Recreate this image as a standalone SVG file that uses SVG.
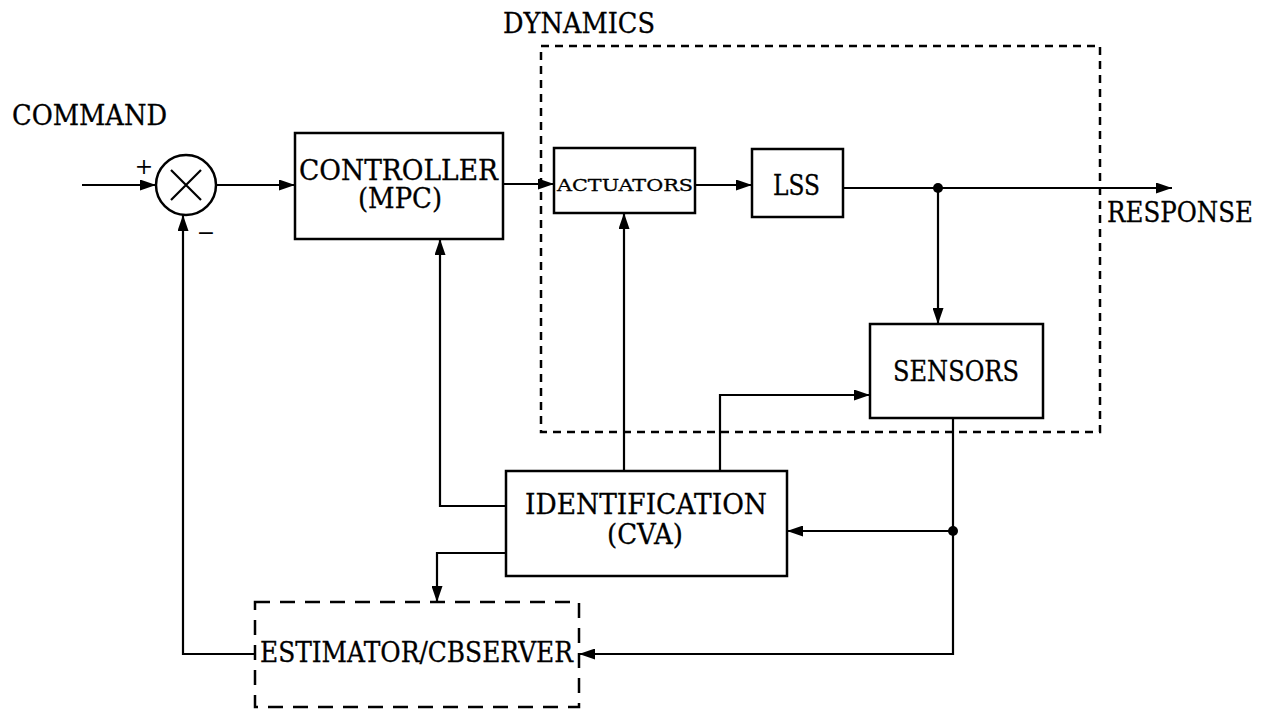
<svg xmlns="http://www.w3.org/2000/svg" width="1272" height="711" viewBox="0 0 1272 711">
  <style>
    .box { fill: none; stroke: #000; stroke-width: 2.5; }
    .dyn { fill: none; stroke: #000; stroke-width: 2.5; stroke-dasharray: 8 6; }
    .est { fill: none; stroke: #000; stroke-width: 2.5; stroke-dasharray: 15 10; }
    .wire { fill: none; stroke: #000; stroke-width: 2.2; }
    .lbl { font-family: "DejaVu Serif", "Liberation Serif", serif; font-size: 27px; fill: #000; stroke: #000; stroke-width: 0.3; }
    .sm { font-family: "DejaVu Serif", "Liberation Serif", serif; font-size: 17px; fill: #000; stroke: #000; stroke-width: 0.3; }
    .sign { font-family: "DejaVu Serif", "Liberation Serif", serif; font-size: 22px; fill: #000; }
  </style>
  <defs>
    <marker id="arr" viewBox="0 0 16 11" refX="16" refY="5.5" markerWidth="16" markerHeight="11" markerUnits="userSpaceOnUse" orient="auto">
      <path d="M0,0 L16,5.5 L0,11 Z" fill="#000"/>
    </marker>
  </defs>
  <rect width="1272" height="711" fill="#fff"/>

  <!-- outer labels -->
  <text class="lbl" x="12" y="125" textLength="155" lengthAdjust="spacingAndGlyphs">COMMAND</text>
  <text class="lbl" x="503" y="33" textLength="152" lengthAdjust="spacingAndGlyphs">DYNAMICS</text>
  <text class="lbl" x="1107" y="222" textLength="146" lengthAdjust="spacingAndGlyphs">RESPONSE</text>

  <!-- plant boundary -->
  <g id="dynamics">
    <rect class="dyn" x="541" y="46" width="559" height="386"/>
  </g>

  <!-- summing junction -->
  <g id="sum">
    <circle class="box" cx="186" cy="185" r="30"/>
    <path class="wire" d="M171,170 L201,200 M201,170 L171,200"/>
    <text class="sign" x="144" y="174" text-anchor="middle">+</text>
    <text class="sign" x="206" y="240" text-anchor="middle">−</text>
  </g>

  <g id="controller">
    <rect class="box" x="295" y="133" width="208" height="106"/>
    <text class="lbl" x="299" y="180" textLength="199" lengthAdjust="spacingAndGlyphs">CONTROLLER</text>
    <text class="lbl" x="358" y="208" textLength="84" lengthAdjust="spacingAndGlyphs">(MPC)</text>
  </g>

  <g id="actuators">
    <rect class="box" x="554" y="148" width="141" height="65"/>
    <text class="sm" x="557" y="191" textLength="136" lengthAdjust="spacingAndGlyphs">ACTUATORS</text>
  </g>

  <g id="lss">
    <rect class="box" x="752" y="149" width="91" height="68"/>
    <text class="lbl" x="773" y="195" textLength="47" lengthAdjust="spacingAndGlyphs">LSS</text>
  </g>

  <g id="sensors">
    <rect class="box" x="870" y="324" width="173" height="94"/>
    <text class="lbl" x="893" y="381" textLength="126" lengthAdjust="spacingAndGlyphs">SENSORS</text>
  </g>

  <g id="identification">
    <rect class="box" x="506" y="471" width="281" height="105"/>
    <text class="lbl" x="525" y="514" textLength="242" lengthAdjust="spacingAndGlyphs">IDENTIFICATION</text>
    <text class="lbl" x="607" y="544" textLength="76" lengthAdjust="spacingAndGlyphs">(CVA)</text>
  </g>

  <g id="estimator">
    <rect class="est" x="255" y="602" width="324" height="105"/>
    <text class="lbl" x="260" y="662" textLength="313" lengthAdjust="spacingAndGlyphs">ESTIMATOR/CBSERVER</text>
  </g>

  <g id="connectors">
    <path class="wire" d="M82,185 H156" marker-end="url(#arr)"/>
    <path class="wire" d="M216,185 H295" marker-end="url(#arr)"/>
    <path class="wire" d="M503,184 H554" marker-end="url(#arr)"/>
    <path class="wire" d="M695,185 H752" marker-end="url(#arr)"/>
    <path class="wire" d="M843,188 H1172" marker-end="url(#arr)"/>
    <circle cx="938" cy="188" r="5" fill="#000"/>
    <path class="wire" d="M938,188 V324" marker-end="url(#arr)"/>
    <path class="wire" d="M624,471 V213" marker-end="url(#arr)"/>
    <path class="wire" d="M720,471 V395 H870" marker-end="url(#arr)"/>
    <path class="wire" d="M506,506 H440 V239" marker-end="url(#arr)"/>
    <path class="wire" d="M506,553 H437 V602" marker-end="url(#arr)"/>
    <path class="wire" d="M953,418 V654 H579" marker-end="url(#arr)"/>
    <circle cx="953" cy="531" r="5" fill="#000"/>
    <path class="wire" d="M953,531 H787" marker-end="url(#arr)"/>
    <path class="wire" d="M255,654 H183 V215" marker-end="url(#arr)"/>
  </g>
</svg>
